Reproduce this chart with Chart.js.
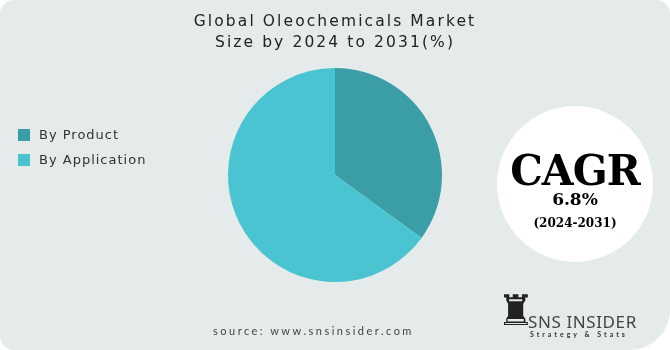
<!DOCTYPE html>
<html>
<head>
<meta charset="utf-8">
<script src="https://cdn.jsdelivr.net/npm/chart.js@4"></script>
<style>
    html, body { margin: 0; padding: 0; background: #ffffff; }
    #card {
        position: relative;
        width: 670px;
        height: 350px;
        background: #e4ebea;
        border-radius: 14px 14px 40px 14px;
        overflow: hidden;
        font-family: Lato, "Noto Sans", sans-serif;
    }
    #chart { position: absolute; left: 0; top: 0; }
    #title {
        position: absolute; left: 0; width: 670px; top: 11px;
        text-align: center; font-family: "DejaVu Sans", sans-serif;
        font-size: 15.5px; line-height: 21px;
        letter-spacing: 2.1px; color: #222;
    }
    #legend { position: absolute; left: 18px; top: 122px; font-family: "DejaVu Sans", sans-serif; }
    .item { height: 25px; display: flex; align-items: center; font-size: 13px; letter-spacing: 1px; color: #333; }
    .box { width: 12px; height: 12px; margin-right: 9px; }
    #cagr {
        position: absolute; left: 497px; top: 106px; width: 156px; height: 156px;
        border-radius: 50%; background: #ffffff; text-align: center;
        font-family: "DejaVu Serif", serif; font-weight: bold; color: #000;
    }
    #cagr .big { position: absolute; top: 44px; width: 100%; font-size: 41px; line-height: 40px; letter-spacing: -1px; transform: scaleY(1.05); }
    #cagr .val { position: absolute; top: 83px; width: 100%; font-size: 17px; }
    #cagr .yrs { position: absolute; top: 110px; width: 100%; font-size: 12px; }
    #source {
        position: absolute; left: 213px; top: 324px;
        font-size: 11px; letter-spacing: 2.5px; color: #444;
    }
    #logo { position: absolute; left: 497px; top: 286px; }
    #logo .icon { position: absolute; left: 0; top: 0; font-size: 42px; line-height: 50px; color: #222; font-family: "DejaVu Sans"; }
    #logo .name { position: absolute; left: 31px; top: 24px; font-size: 17px; color: #444; letter-spacing: 0.6px; white-space: nowrap; font-family: "Noto Sans", sans-serif; }
    #logo .tag { position: absolute; left: 33px; top: 44px; font-size: 7px; font-weight: bold; color: #333; letter-spacing: 3px; white-space: nowrap; }
</style>
</head>
<body>
<div id="card">
    <canvas id="chart" width="670" height="350"></canvas>
    <div id="title">Global Oleochemicals Market<br>Size by 2024 to 2031(%)</div>
    <div id="legend"></div>
    <div id="cagr">
        <div class="big">CAGR</div>
        <div class="val">6.8%</div>
        <div class="yrs">(2024-2031)</div>
    </div>
    <div id="source">source: www.snsinsider.com</div>
    <div id="logo">
        <div class="icon">♜</div>
        <div class="name">SNS INSIDER</div>
        <div class="tag">Strategy &amp; Stats</div>
    </div>
</div>
<script>
const segments = ['By Product', 'By Application'];
const shares = [35, 65];
const colors = ['#3b9ea6', '#4bc4d2'];

document.getElementById('legend').innerHTML = segments.map(function(s, i) {
    return '<div class="item"><span class="box" style="background:' + colors[i] + '"></span>' + s + '</div>';
}).join('');

new Chart(document.getElementById('chart').getContext('2d'), {
    type: 'pie',
    data: {
        labels: segments,
        datasets: [{
            data: shares,
            backgroundColor: colors,
            borderWidth: 0
        }]
    },
    options: {
        responsive: false,
        animation: false,
        layout: { padding: { top: 68, bottom: 68, left: 228, right: 228 } },
        plugins: {
            legend: { display: false },
            tooltip: { enabled: false }
        }
    }
});
</script>
</body>
</html>
